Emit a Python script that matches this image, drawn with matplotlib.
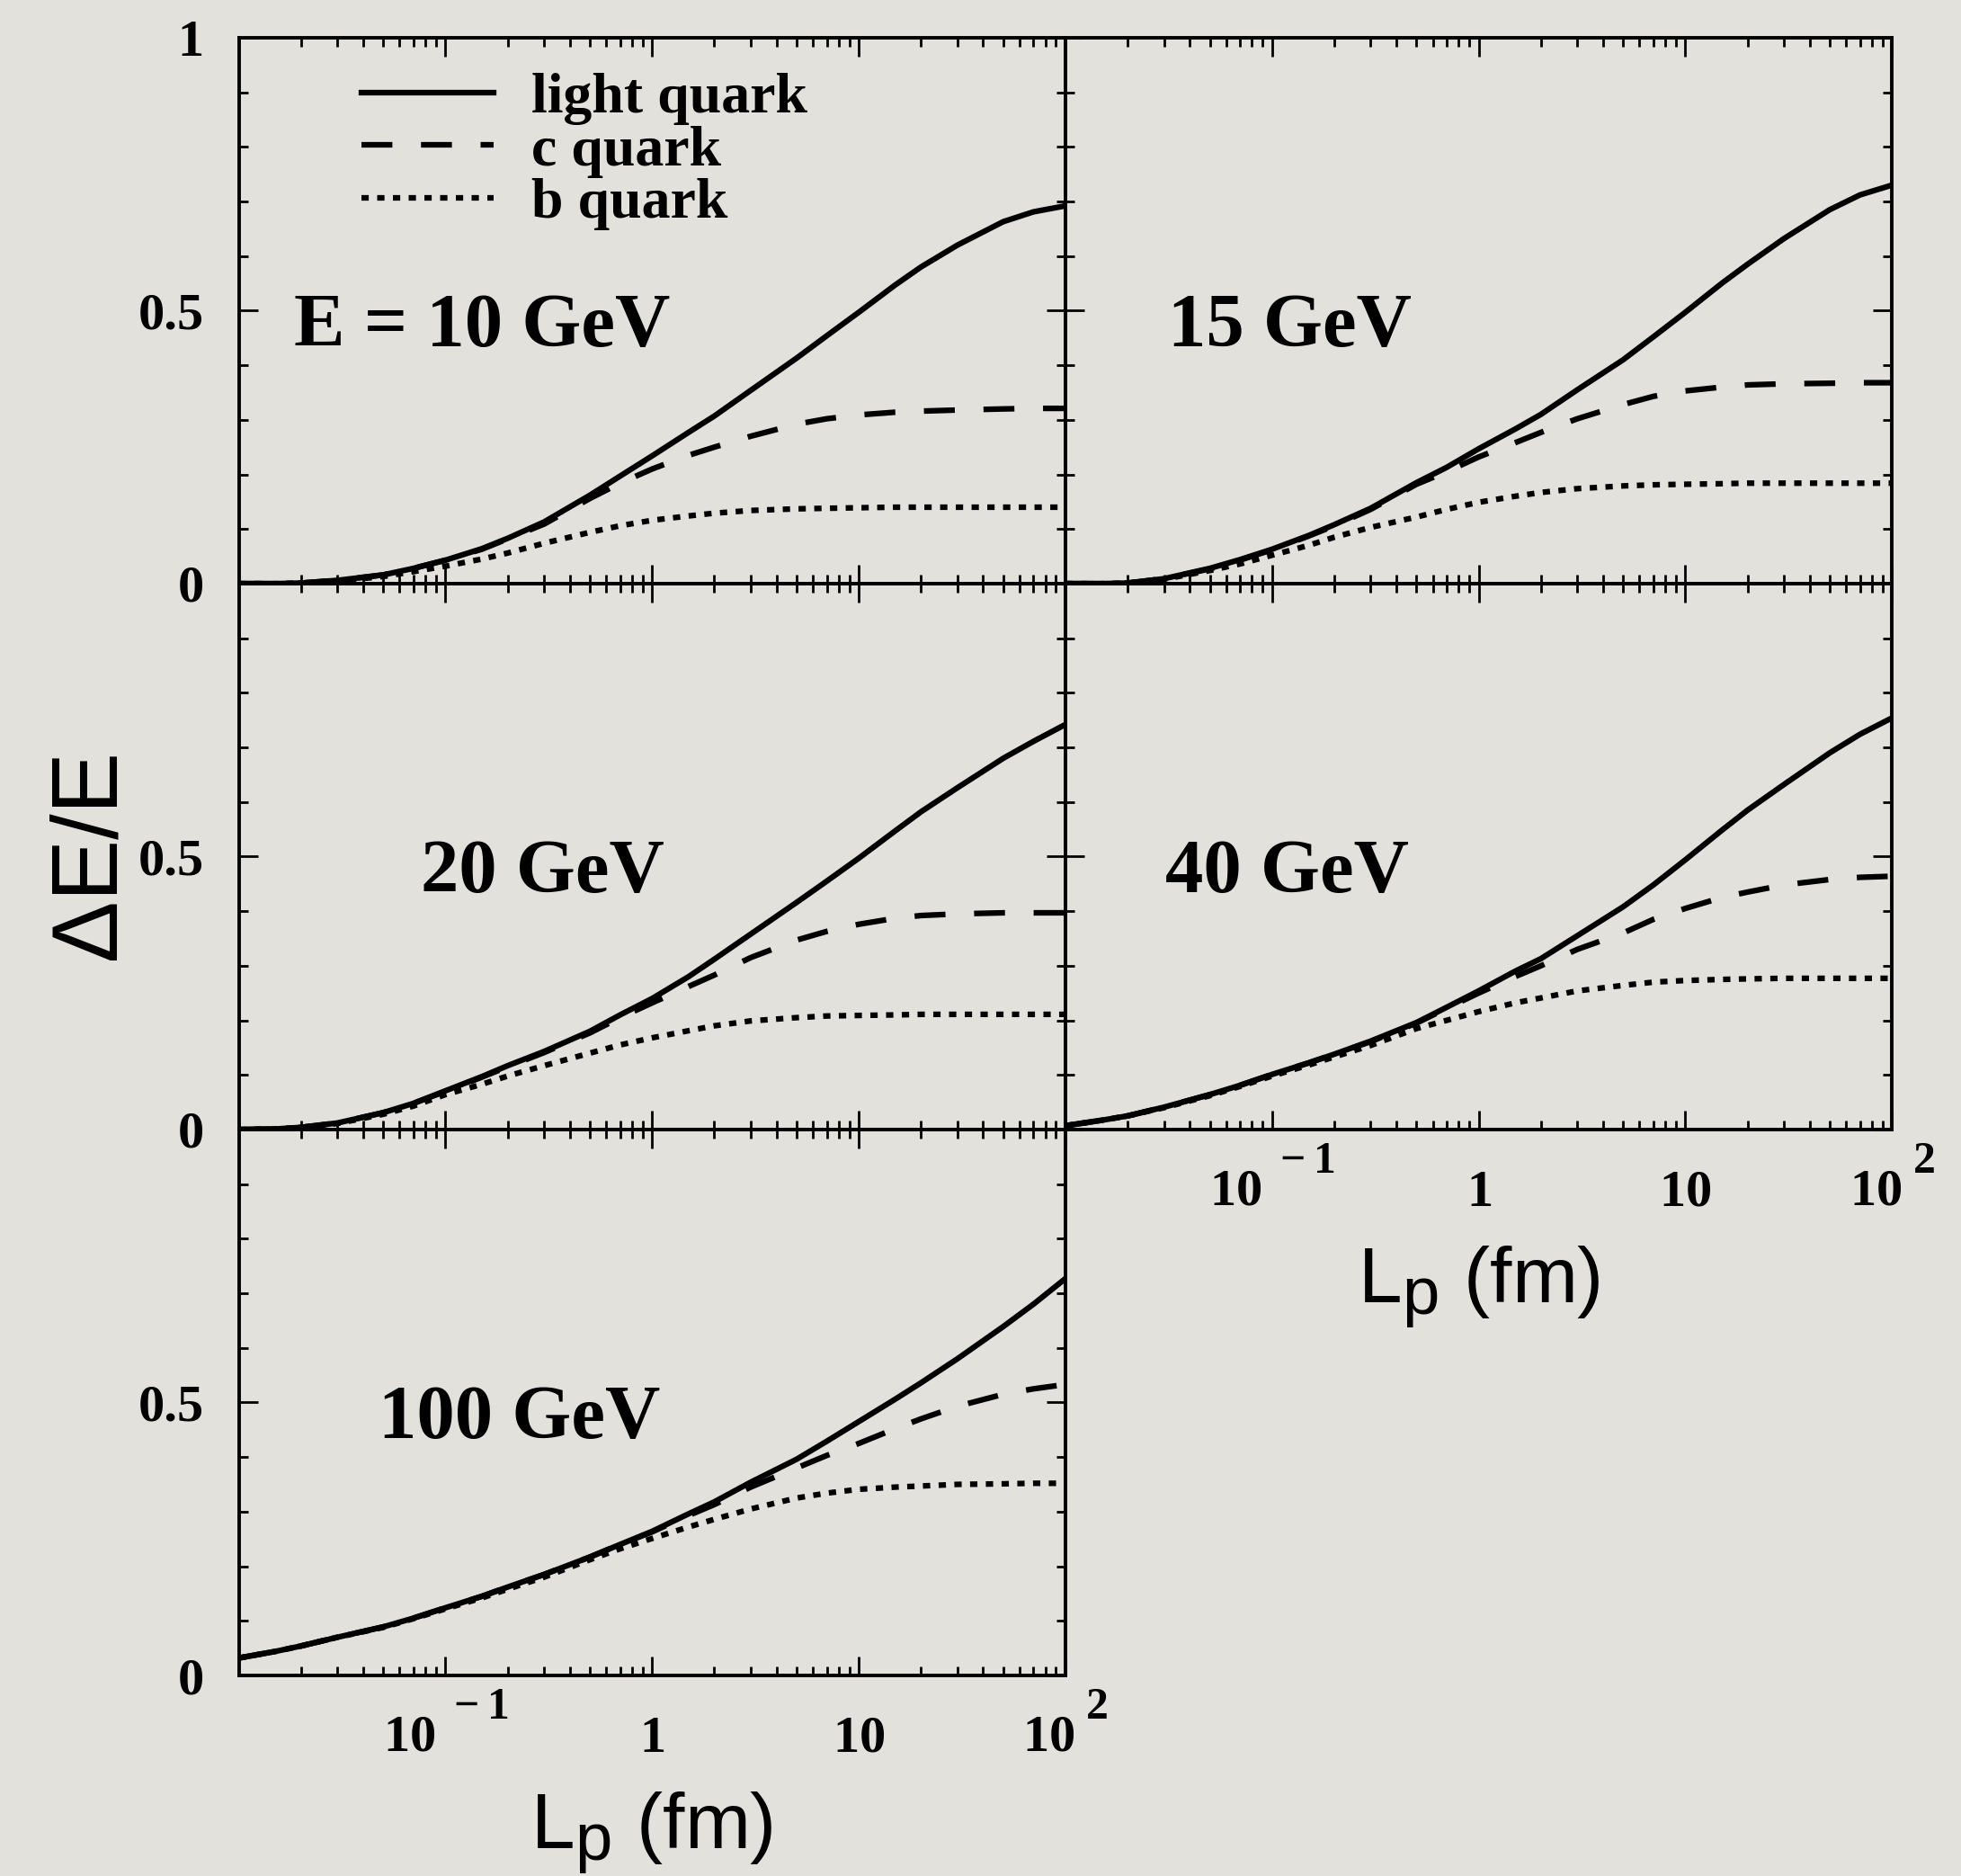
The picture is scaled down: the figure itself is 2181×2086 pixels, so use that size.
import matplotlib
matplotlib.use("Agg")
import matplotlib.pyplot as plt
from matplotlib.lines import Line2D
from matplotlib.ticker import FixedLocator, LogLocator, MultipleLocator, NullFormatter, FixedFormatter

try:
    import matplotlib._mathtext as _mt
    _mt.FontConstantsBase.sup1 = 1.4
    _mt.SHRINK_FACTOR = 0.85
except Exception:
    pass

plt.rcParams['mathtext.fontset'] = 'custom'
plt.rcParams['mathtext.rm'] = 'Liberation Serif:bold'
plt.rcParams['mathtext.bf'] = 'Liberation Serif:bold'
plt.rcParams['mathtext.it'] = 'Liberation Serif:bold'
plt.rcParams['mathtext.sf'] = 'Liberation Sans'

# ---------------- data ----------------
L_p = [0.01, 0.015, 0.02, 0.03, 0.05, 0.07, 0.1, 0.15, 0.2, 0.3, 0.5, 0.7,
       1, 1.5, 2, 3, 5, 7, 10, 15, 20, 30, 50, 70, 100]

E10_light = [0.0, 0.0, 0.001, 0.006, 0.016, 0.028, 0.043, 0.064, 0.083, 0.113, 0.162, 0.197,
             0.234, 0.277, 0.307, 0.354, 0.413, 0.454, 0.497, 0.547, 0.58, 0.62, 0.663, 0.681, 0.692]
E10_c = [0.0, 0.0, 0.001, 0.006, 0.016, 0.028, 0.043, 0.063, 0.082, 0.109, 0.156, 0.184,
         0.21, 0.235, 0.25, 0.27, 0.292, 0.302, 0.309, 0.314, 0.316, 0.318, 0.32, 0.321, 0.321]
E10_b = [0.0, 0.0, 0.001, 0.005, 0.013, 0.022, 0.032, 0.045, 0.056, 0.074, 0.094, 0.106,
         0.116, 0.124, 0.129, 0.134, 0.137, 0.138, 0.139, 0.14, 0.14, 0.14, 0.14, 0.14, 0.14]

E15_light = [0.0, 0.0, 0.001, 0.009, 0.028, 0.044, 0.063, 0.088, 0.108, 0.138, 0.185, 0.213,
             0.247, 0.283, 0.31, 0.355, 0.41, 0.452, 0.497, 0.55, 0.585, 0.632, 0.685, 0.712, 0.73]
E15_c = [0.0, 0.0, 0.001, 0.009, 0.027, 0.043, 0.062, 0.087, 0.106, 0.136, 0.182, 0.205,
         0.232, 0.258, 0.277, 0.302, 0.328, 0.343, 0.353, 0.36, 0.364, 0.366, 0.367, 0.368, 0.368]
E15_b = [0.0, 0.0, 0.001, 0.008, 0.024, 0.036, 0.052, 0.07, 0.085, 0.103, 0.122, 0.136,
         0.149, 0.16, 0.167, 0.174, 0.179, 0.181, 0.182, 0.183, 0.184, 0.184, 0.184, 0.184, 0.184]

E20_light = [0.0, 0.001, 0.004, 0.012, 0.031, 0.048, 0.071, 0.097, 0.117, 0.143, 0.18, 0.21,
             0.24, 0.28, 0.312, 0.358, 0.416, 0.455, 0.497, 0.547, 0.582, 0.626, 0.68, 0.711, 0.742]
E20_c = [0.0, 0.001, 0.004, 0.012, 0.031, 0.048, 0.07, 0.096, 0.115, 0.141, 0.177, 0.205,
         0.232, 0.262, 0.283, 0.315, 0.347, 0.363, 0.376, 0.387, 0.392, 0.395, 0.397, 0.397, 0.397]
E20_b = [0.0, 0.001, 0.004, 0.011, 0.028, 0.043, 0.064, 0.083, 0.098, 0.117, 0.14, 0.155,
         0.168, 0.181, 0.19, 0.199, 0.205, 0.208, 0.209, 0.21, 0.211, 0.211, 0.211, 0.211, 0.211]

E40_light = [0.007, 0.017, 0.025, 0.041, 0.064, 0.081, 0.101, 0.122, 0.138, 0.162, 0.196, 0.224,
             0.254, 0.29, 0.313, 0.355, 0.408, 0.448, 0.494, 0.548, 0.585, 0.632, 0.69, 0.724, 0.754]
E40_c = [0.007, 0.017, 0.025, 0.041, 0.064, 0.081, 0.101, 0.122, 0.138, 0.161, 0.195, 0.222,
         0.25, 0.28, 0.30, 0.33, 0.36, 0.385, 0.405, 0.425, 0.435, 0.448, 0.458, 0.462, 0.464]
E40_b = [0.007, 0.017, 0.025, 0.04, 0.062, 0.079, 0.098, 0.118, 0.133, 0.154, 0.185, 0.2,
         0.216, 0.232, 0.241, 0.254, 0.264, 0.27, 0.273, 0.275, 0.276, 0.277, 0.277, 0.277, 0.277]

E100_light = [0.032, 0.044, 0.054, 0.07, 0.089, 0.105, 0.124, 0.145, 0.162, 0.185, 0.217, 0.24,
              0.264, 0.296, 0.318, 0.354, 0.396, 0.429, 0.465, 0.506, 0.536, 0.58, 0.639, 0.68, 0.727]
E100_c = [0.032, 0.044, 0.054, 0.07, 0.089, 0.105, 0.124, 0.145, 0.162, 0.185, 0.217, 0.24,
          0.263, 0.293, 0.313, 0.345, 0.38, 0.403, 0.425, 0.452, 0.47, 0.493, 0.515, 0.525, 0.533]
E100_b = [0.032, 0.044, 0.054, 0.07, 0.088, 0.104, 0.122, 0.142, 0.158, 0.18, 0.212, 0.232,
          0.251, 0.272, 0.286, 0.305, 0.325, 0.334, 0.341, 0.345, 0.347, 0.35, 0.351, 0.352, 0.352]

panel_labels = ["E = 10 GeV", "15 GeV", "20 GeV", "40 GeV", "100 GeV"]
series_labels = ["light quark", "c quark", "b quark"]
x_tick_vals = [0.1, 1, 10, 100]
x_tick_labels = [r'$10^{\;-1}$', r'$1$', r'$10$', r'$10^{\;2}$']
y_tick_vals = [0, 0.5, 1]

panels = [
    (E10_light, E10_c, E10_b),
    (E15_light, E15_c, E15_b),
    (E20_light, E20_c, E20_b),
    (E40_light, E40_c, E40_b),
    (E100_light, E100_c, E100_b),
]

# ---------------- styling ----------------
BG = '#e3e1dc'
LW = 4.5
STYLES = [dict(linestyle='-'),
          dict(linestyle=(0, (5.5, 5.1))),
          dict(linestyle=(0, (1.3, 1.5)))]
SERIF = 'Liberation Serif'
SANS = 'Liberation Sans'

fig = plt.figure(figsize=(21.81, 20.86), dpi=100, facecolor=BG)

left1, left2 = 0.1218, 0.5433
w = 0.4215
h = 0.291
bottoms = [0.6889, 0.3979, 0.1069]
positions = [(left1, bottoms[0]), (left2, bottoms[0]),
             (left1, bottoms[1]), (left2, bottoms[1]),
             (left1, bottoms[2])]
label_x = [0.067, 0.124, 0.22, 0.121, 0.169]

axes = []
for i, ((x0, y0), data) in enumerate(zip(positions, panels)):
    ax = fig.add_axes([x0, y0, w, h])
    ax.set_facecolor('none')
    for vals, st in zip(data, STYLES):
        ax.plot(L_p, vals, color='black', lw=LW, dash_capstyle='butt',
                solid_joinstyle='round', **st)
    ax.set_xscale('log')
    ax.set_xlim(0.01, 100)
    ax.set_ylim(0, 1)
    ax.xaxis.set_major_locator(FixedLocator(x_tick_vals))
    ax.xaxis.set_minor_locator(LogLocator(base=10, subs=range(2, 10), numticks=20))
    ax.xaxis.set_minor_formatter(NullFormatter())
    ax.yaxis.set_major_locator(FixedLocator(y_tick_vals))
    ax.yaxis.set_minor_locator(MultipleLocator(0.1))
    for sp in ax.spines.values():
        sp.set_linewidth(2.8)
    ax.tick_params(which='both', direction='in', top=True, right=True, width=2.0, color='black')
    ax.tick_params(which='major', length=15)
    ax.tick_params(which='minor', length=7)

    # y labels only on left column
    if i in (0, 2, 4):
        ylabs = ['0', '0.5', '1'] if i == 0 else ['0', '0.5', '']
        ax.yaxis.set_major_formatter(FixedFormatter(ylabs))
        ax.tick_params(axis='y', labelsize=42, pad=28)
        for t in ax.get_yticklabels():
            t.set_fontfamily(SERIF)
            t.set_fontweight('bold')
    else:
        ax.yaxis.set_major_formatter(NullFormatter())

    # x labels on bottom-left and middle-right
    if i in (3, 4):
        ax.xaxis.set_major_formatter(FixedFormatter(x_tick_labels))
        ax.tick_params(axis='x', labelsize=42, pad=61)
        for t in ax.get_xticklabels():
            t.set_va('baseline')
        ax.set_xlabel(r'$\mathsf{L_p}$ (fm)', fontsize=63, fontfamily=SANS)
        ax.xaxis.set_label_coords(0.5, -0.317)
        ax.xaxis.label.set_va('baseline')
    else:
        ax.xaxis.set_major_formatter(NullFormatter())

    ax.text(label_x[i], 0.435, panel_labels[i], transform=ax.transAxes,
            fontsize=61, fontfamily=SERIF, fontweight='bold', ha='left', va='baseline')
    axes.append(ax)

# legend in the first panel
handles = [Line2D([], [], color='black', lw=LW, dash_capstyle='butt', **st) for st in STYLES]
axes[0].legend(handles, series_labels, loc='upper left', bbox_to_anchor=(0.148, 0.937),
               frameon=False, borderpad=0, borderaxespad=0, handlelength=2.3,
               handletextpad=0.67, labelspacing=0.0,
               prop=dict(family=SERIF, weight='bold', size=46))

# y axis label
axes[2].set_ylabel('ΔE/E', fontsize=74, fontfamily=SANS)
axes[2].yaxis.set_label_coords(-0.1786, 0.504)
axes[2].yaxis.label.set_va('center')
axes[2].yaxis.label.set_ha('center')

fig.savefig('out.png', dpi=100, facecolor=BG)
